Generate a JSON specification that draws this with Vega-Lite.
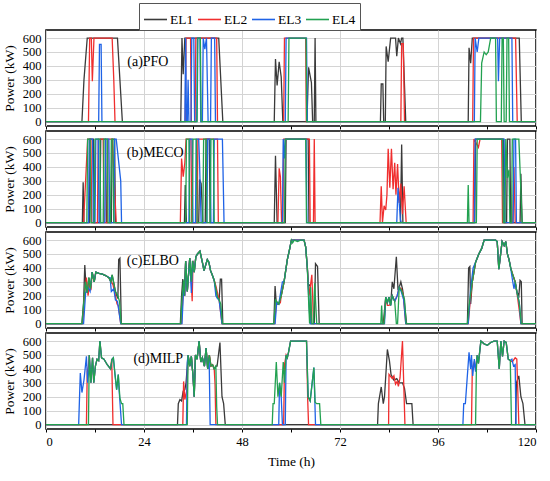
{
"$schema": "https://vega.github.io/schema/vega-lite/v6.json",
"padding": {"left": 1, "top": 2, "right": 5, "bottom": 2},
"background": "white",
"spacing": -1.5,
"data": {"values": [
{"p":"a","s":"EL1","t":0,"v":0},{"p":"a","s":"EL1","t":8.8,"v":0},{"p":"a","s":"EL1","t":9.3,"v":300},{"p":"a","s":"EL1","t":10.1,"v":600},{"p":"a","s":"EL1","t":17.5,"v":600},{"p":"a","s":"EL1","t":18.1,"v":300},{"p":"a","s":"EL1","t":18.7,"v":0},{"p":"a","s":"EL1","t":33.0,"v":0},{"p":"a","s":"EL1","t":33.3,"v":600},{"p":"a","s":"EL1","t":33.6,"v":340},{"p":"a","s":"EL1","t":34.0,"v":600},{"p":"a","s":"EL1","t":42.3,"v":600},{"p":"a","s":"EL1","t":43.3,"v":0},{"p":"a","s":"EL1","t":55.9,"v":0},{"p":"a","s":"EL1","t":56.2,"v":450},{"p":"a","s":"EL1","t":56.6,"v":260},{"p":"a","s":"EL1","t":57.1,"v":430},{"p":"a","s":"EL1","t":57.6,"v":320},{"p":"a","s":"EL1","t":58.0,"v":0},{"p":"a","s":"EL1","t":63.9,"v":0},{"p":"a","s":"EL1","t":64.3,"v":390},{"p":"a","s":"EL1","t":65.0,"v":280},{"p":"a","s":"EL1","t":65.3,"v":0},{"p":"a","s":"EL1","t":65.7,"v":0},{"p":"a","s":"EL1","t":65.9,"v":600},{"p":"a","s":"EL1","t":66.1,"v":0},{"p":"a","s":"EL1","t":81.9,"v":0},{"p":"a","s":"EL1","t":82.1,"v":270},{"p":"a","s":"EL1","t":82.5,"v":270},{"p":"a","s":"EL1","t":82.7,"v":0},{"p":"a","s":"EL1","t":83.1,"v":0},{"p":"a","s":"EL1","t":83.3,"v":540},{"p":"a","s":"EL1","t":83.8,"v":430},{"p":"a","s":"EL1","t":84.4,"v":600},{"p":"a","s":"EL1","t":85.6,"v":600},{"p":"a","s":"EL1","t":85.9,"v":470},{"p":"a","s":"EL1","t":86.3,"v":600},{"p":"a","s":"EL1","t":86.8,"v":560},{"p":"a","s":"EL1","t":87.1,"v":600},{"p":"a","s":"EL1","t":87.4,"v":600},{"p":"a","s":"EL1","t":88.1,"v":0},{"p":"a","s":"EL1","t":103.4,"v":0},{"p":"a","s":"EL1","t":103.6,"v":530},{"p":"a","s":"EL1","t":104.0,"v":420},{"p":"a","s":"EL1","t":104.4,"v":600},{"p":"a","s":"EL1","t":115.9,"v":600},{"p":"a","s":"EL1","t":116.4,"v":0},{"p":"a","s":"EL1","t":120,"v":0},
{"p":"a","s":"EL2","t":0,"v":0},{"p":"a","s":"EL2","t":10.4,"v":0},{"p":"a","s":"EL2","t":10.7,"v":600},{"p":"a","s":"EL2","t":11.1,"v":600},{"p":"a","s":"EL2","t":11.35,"v":290},{"p":"a","s":"EL2","t":11.75,"v":600},{"p":"a","s":"EL2","t":16.2,"v":600},{"p":"a","s":"EL2","t":16.6,"v":300},{"p":"a","s":"EL2","t":16.9,"v":0},{"p":"a","s":"EL2","t":34.1,"v":0},{"p":"a","s":"EL2","t":34.3,"v":600},{"p":"a","s":"EL2","t":35.4,"v":600},{"p":"a","s":"EL2","t":35.6,"v":0},{"p":"a","s":"EL2","t":36.5,"v":0},{"p":"a","s":"EL2","t":36.7,"v":600},{"p":"a","s":"EL2","t":41.8,"v":600},{"p":"a","s":"EL2","t":42.0,"v":0},{"p":"a","s":"EL2","t":58.2,"v":0},{"p":"a","s":"EL2","t":58.4,"v":600},{"p":"a","s":"EL2","t":63.6,"v":600},{"p":"a","s":"EL2","t":63.75,"v":0},{"p":"a","s":"EL2","t":86.9,"v":0},{"p":"a","s":"EL2","t":87.1,"v":560},{"p":"a","s":"EL2","t":87.5,"v":560},{"p":"a","s":"EL2","t":87.8,"v":0},{"p":"a","s":"EL2","t":104.5,"v":0},{"p":"a","s":"EL2","t":104.7,"v":600},{"p":"a","s":"EL2","t":115.0,"v":600},{"p":"a","s":"EL2","t":115.4,"v":0},{"p":"a","s":"EL2","t":120,"v":0},
{"p":"a","s":"EL3","t":0,"v":0},{"p":"a","s":"EL3","t":12.9,"v":0},{"p":"a","s":"EL3","t":13.1,"v":555},{"p":"a","s":"EL3","t":13.5,"v":555},{"p":"a","s":"EL3","t":13.7,"v":0},{"p":"a","s":"EL3","t":34.0,"v":0},{"p":"a","s":"EL3","t":34.2,"v":600},{"p":"a","s":"EL3","t":34.4,"v":0},{"p":"a","s":"EL3","t":34.6,"v":0},{"p":"a","s":"EL3","t":34.8,"v":300},{"p":"a","s":"EL3","t":35.0,"v":0},{"p":"a","s":"EL3","t":35.5,"v":0},{"p":"a","s":"EL3","t":35.7,"v":600},{"p":"a","s":"EL3","t":36.2,"v":600},{"p":"a","s":"EL3","t":36.4,"v":0},{"p":"a","s":"EL3","t":36.9,"v":0},{"p":"a","s":"EL3","t":37.1,"v":600},{"p":"a","s":"EL3","t":37.7,"v":600},{"p":"a","s":"EL3","t":37.9,"v":0},{"p":"a","s":"EL3","t":38.3,"v":0},{"p":"a","s":"EL3","t":38.5,"v":600},{"p":"a","s":"EL3","t":38.9,"v":520},{"p":"a","s":"EL3","t":39.3,"v":600},{"p":"a","s":"EL3","t":39.7,"v":0},{"p":"a","s":"EL3","t":40.3,"v":0},{"p":"a","s":"EL3","t":40.5,"v":600},{"p":"a","s":"EL3","t":41.3,"v":600},{"p":"a","s":"EL3","t":41.5,"v":0},{"p":"a","s":"EL3","t":58.6,"v":0},{"p":"a","s":"EL3","t":58.8,"v":600},{"p":"a","s":"EL3","t":63.8,"v":600},{"p":"a","s":"EL3","t":64.0,"v":0},{"p":"a","s":"EL3","t":104.9,"v":0},{"p":"a","s":"EL3","t":105.1,"v":600},{"p":"a","s":"EL3","t":105.6,"v":500},{"p":"a","s":"EL3","t":106.0,"v":600},{"p":"a","s":"EL3","t":110.6,"v":600},{"p":"a","s":"EL3","t":110.8,"v":290},{"p":"a","s":"EL3","t":111.1,"v":600},{"p":"a","s":"EL3","t":114.1,"v":600},{"p":"a","s":"EL3","t":114.3,"v":0},{"p":"a","s":"EL3","t":120,"v":0},
{"p":"a","s":"EL4","t":0,"v":0},{"p":"a","s":"EL4","t":37.0,"v":0},{"p":"a","s":"EL4","t":37.2,"v":600},{"p":"a","s":"EL4","t":37.8,"v":600},{"p":"a","s":"EL4","t":38.0,"v":0},{"p":"a","s":"EL4","t":59.3,"v":0},{"p":"a","s":"EL4","t":59.5,"v":600},{"p":"a","s":"EL4","t":63.7,"v":600},{"p":"a","s":"EL4","t":63.85,"v":0},{"p":"a","s":"EL4","t":106.4,"v":0},{"p":"a","s":"EL4","t":106.7,"v":420},{"p":"a","s":"EL4","t":107.3,"v":500},{"p":"a","s":"EL4","t":107.8,"v":480},{"p":"a","s":"EL4","t":108.3,"v":500},{"p":"a","s":"EL4","t":108.9,"v":600},{"p":"a","s":"EL4","t":110.1,"v":600},{"p":"a","s":"EL4","t":110.3,"v":0},{"p":"a","s":"EL4","t":111.5,"v":0},{"p":"a","s":"EL4","t":111.7,"v":600},{"p":"a","s":"EL4","t":112.0,"v":600},{"p":"a","s":"EL4","t":112.2,"v":0},{"p":"a","s":"EL4","t":112.7,"v":0},{"p":"a","s":"EL4","t":112.9,"v":600},{"p":"a","s":"EL4","t":113.3,"v":600},{"p":"a","s":"EL4","t":113.5,"v":0},{"p":"a","s":"EL4","t":120,"v":0},

{"p":"b","s":"EL1","t":0,"v":0},{"p":"b","s":"EL1","t":8.9,"v":0},{"p":"b","s":"EL1","t":9.1,"v":290},{"p":"b","s":"EL1","t":9.3,"v":0},{"p":"b","s":"EL1","t":10.6,"v":0},{"p":"b","s":"EL1","t":10.8,"v":600},{"p":"b","s":"EL1","t":11.6,"v":600},{"p":"b","s":"EL1","t":11.8,"v":0},{"p":"b","s":"EL1","t":13.2,"v":0},{"p":"b","s":"EL1","t":13.4,"v":600},{"p":"b","s":"EL1","t":14.6,"v":600},{"p":"b","s":"EL1","t":14.8,"v":0},{"p":"b","s":"EL1","t":16.0,"v":0},{"p":"b","s":"EL1","t":16.2,"v":600},{"p":"b","s":"EL1","t":16.8,"v":600},{"p":"b","s":"EL1","t":17.0,"v":0},{"p":"b","s":"EL1","t":33.9,"v":0},{"p":"b","s":"EL1","t":34.1,"v":270},{"p":"b","s":"EL1","t":34.4,"v":0},{"p":"b","s":"EL1","t":37.4,"v":0},{"p":"b","s":"EL1","t":37.6,"v":310},{"p":"b","s":"EL1","t":38.0,"v":280},{"p":"b","s":"EL1","t":38.4,"v":0},{"p":"b","s":"EL1","t":39.0,"v":0},{"p":"b","s":"EL1","t":39.2,"v":600},{"p":"b","s":"EL1","t":40.0,"v":600},{"p":"b","s":"EL1","t":40.2,"v":0},{"p":"b","s":"EL1","t":55.9,"v":0},{"p":"b","s":"EL1","t":56.2,"v":480},{"p":"b","s":"EL1","t":56.6,"v":0},{"p":"b","s":"EL1","t":58.6,"v":0},{"p":"b","s":"EL1","t":58.8,"v":600},{"p":"b","s":"EL1","t":64.2,"v":600},{"p":"b","s":"EL1","t":64.4,"v":0},{"p":"b","s":"EL1","t":86.8,"v":0},{"p":"b","s":"EL1","t":87.1,"v":560},{"p":"b","s":"EL1","t":87.4,"v":0},{"p":"b","s":"EL1","t":105.0,"v":0},{"p":"b","s":"EL1","t":105.2,"v":600},{"p":"b","s":"EL1","t":112.0,"v":600},{"p":"b","s":"EL1","t":112.2,"v":0},{"p":"b","s":"EL1","t":112.8,"v":0},{"p":"b","s":"EL1","t":113.0,"v":600},{"p":"b","s":"EL1","t":113.6,"v":600},{"p":"b","s":"EL1","t":113.8,"v":0},{"p":"b","s":"EL1","t":116.1,"v":0},{"p":"b","s":"EL1","t":116.3,"v":350},{"p":"b","s":"EL1","t":116.6,"v":0},{"p":"b","s":"EL1","t":120,"v":0},
{"p":"b","s":"EL2","t":0,"v":0},{"p":"b","s":"EL2","t":9.2,"v":0},{"p":"b","s":"EL2","t":10.2,"v":600},{"p":"b","s":"EL2","t":11.0,"v":600},{"p":"b","s":"EL2","t":11.2,"v":0},{"p":"b","s":"EL2","t":12.6,"v":0},{"p":"b","s":"EL2","t":12.8,"v":600},{"p":"b","s":"EL2","t":14.0,"v":600},{"p":"b","s":"EL2","t":14.2,"v":0},{"p":"b","s":"EL2","t":15.0,"v":0},{"p":"b","s":"EL2","t":15.2,"v":600},{"p":"b","s":"EL2","t":16.2,"v":600},{"p":"b","s":"EL2","t":16.6,"v":370},{"p":"b","s":"EL2","t":17.2,"v":0},{"p":"b","s":"EL2","t":32.9,"v":0},{"p":"b","s":"EL2","t":33.2,"v":460},{"p":"b","s":"EL2","t":33.6,"v":330},{"p":"b","s":"EL2","t":34.0,"v":430},{"p":"b","s":"EL2","t":34.3,"v":600},{"p":"b","s":"EL2","t":35.5,"v":600},{"p":"b","s":"EL2","t":35.7,"v":0},{"p":"b","s":"EL2","t":37.0,"v":0},{"p":"b","s":"EL2","t":37.2,"v":600},{"p":"b","s":"EL2","t":42.0,"v":600},{"p":"b","s":"EL2","t":42.2,"v":0},{"p":"b","s":"EL2","t":56.8,"v":0},{"p":"b","s":"EL2","t":57.1,"v":390},{"p":"b","s":"EL2","t":57.4,"v":330},{"p":"b","s":"EL2","t":57.7,"v":0},{"p":"b","s":"EL2","t":58.0,"v":0},{"p":"b","s":"EL2","t":58.2,"v":600},{"p":"b","s":"EL2","t":64.5,"v":600},{"p":"b","s":"EL2","t":64.7,"v":0},{"p":"b","s":"EL2","t":65.5,"v":0},{"p":"b","s":"EL2","t":65.7,"v":600},{"p":"b","s":"EL2","t":65.9,"v":0},{"p":"b","s":"EL2","t":81.8,"v":0},{"p":"b","s":"EL2","t":82.1,"v":260},{"p":"b","s":"EL2","t":82.4,"v":0},{"p":"b","s":"EL2","t":82.8,"v":120},{"p":"b","s":"EL2","t":83.2,"v":90},{"p":"b","s":"EL2","t":83.5,"v":200},{"p":"b","s":"EL2","t":83.8,"v":530},{"p":"b","s":"EL2","t":84.2,"v":250},{"p":"b","s":"EL2","t":84.6,"v":530},{"p":"b","s":"EL2","t":85.0,"v":240},{"p":"b","s":"EL2","t":85.4,"v":430},{"p":"b","s":"EL2","t":85.7,"v":200},{"p":"b","s":"EL2","t":86.1,"v":420},{"p":"b","s":"EL2","t":86.5,"v":140},{"p":"b","s":"EL2","t":86.9,"v":280},{"p":"b","s":"EL2","t":87.3,"v":60},{"p":"b","s":"EL2","t":87.7,"v":260},{"p":"b","s":"EL2","t":88.2,"v":0},{"p":"b","s":"EL2","t":104.6,"v":0},{"p":"b","s":"EL2","t":104.8,"v":600},{"p":"b","s":"EL2","t":105.9,"v":540},{"p":"b","s":"EL2","t":106.3,"v":600},{"p":"b","s":"EL2","t":111.6,"v":600},{"p":"b","s":"EL2","t":111.8,"v":0},{"p":"b","s":"EL2","t":114.3,"v":0},{"p":"b","s":"EL2","t":114.6,"v":400},{"p":"b","s":"EL2","t":114.9,"v":0},{"p":"b","s":"EL2","t":120,"v":0},
{"p":"b","s":"EL3","t":0,"v":0},{"p":"b","s":"EL3","t":10.4,"v":0},{"p":"b","s":"EL3","t":10.6,"v":600},{"p":"b","s":"EL3","t":11.4,"v":600},{"p":"b","s":"EL3","t":11.6,"v":0},{"p":"b","s":"EL3","t":12.0,"v":0},{"p":"b","s":"EL3","t":12.2,"v":600},{"p":"b","s":"EL3","t":12.8,"v":600},{"p":"b","s":"EL3","t":13.0,"v":0},{"p":"b","s":"EL3","t":14.4,"v":0},{"p":"b","s":"EL3","t":14.6,"v":600},{"p":"b","s":"EL3","t":15.4,"v":600},{"p":"b","s":"EL3","t":15.6,"v":0},{"p":"b","s":"EL3","t":16.6,"v":0},{"p":"b","s":"EL3","t":16.8,"v":600},{"p":"b","s":"EL3","t":17.2,"v":600},{"p":"b","s":"EL3","t":18.3,"v":300},{"p":"b","s":"EL3","t":18.5,"v":0},{"p":"b","s":"EL3","t":35.0,"v":0},{"p":"b","s":"EL3","t":35.2,"v":600},{"p":"b","s":"EL3","t":35.8,"v":600},{"p":"b","s":"EL3","t":36.0,"v":0},{"p":"b","s":"EL3","t":36.6,"v":0},{"p":"b","s":"EL3","t":36.8,"v":600},{"p":"b","s":"EL3","t":37.4,"v":600},{"p":"b","s":"EL3","t":37.6,"v":430},{"p":"b","s":"EL3","t":38.0,"v":0},{"p":"b","s":"EL3","t":39.4,"v":0},{"p":"b","s":"EL3","t":39.6,"v":600},{"p":"b","s":"EL3","t":40.2,"v":600},{"p":"b","s":"EL3","t":40.4,"v":0},{"p":"b","s":"EL3","t":41.0,"v":0},{"p":"b","s":"EL3","t":41.2,"v":600},{"p":"b","s":"EL3","t":43.2,"v":600},{"p":"b","s":"EL3","t":43.6,"v":0},{"p":"b","s":"EL3","t":57.9,"v":0},{"p":"b","s":"EL3","t":58.1,"v":600},{"p":"b","s":"EL3","t":58.4,"v":460},{"p":"b","s":"EL3","t":58.6,"v":600},{"p":"b","s":"EL3","t":63.7,"v":600},{"p":"b","s":"EL3","t":63.9,"v":0},{"p":"b","s":"EL3","t":85.9,"v":0},{"p":"b","s":"EL3","t":86.2,"v":250},{"p":"b","s":"EL3","t":86.5,"v":140},{"p":"b","s":"EL3","t":86.8,"v":20},{"p":"b","s":"EL3","t":87.0,"v":0},{"p":"b","s":"EL3","t":104.9,"v":0},{"p":"b","s":"EL3","t":105.1,"v":600},{"p":"b","s":"EL3","t":112.2,"v":600},{"p":"b","s":"EL3","t":112.4,"v":0},{"p":"b","s":"EL3","t":114.4,"v":0},{"p":"b","s":"EL3","t":114.6,"v":600},{"p":"b","s":"EL3","t":115.0,"v":600},{"p":"b","s":"EL3","t":115.2,"v":0},{"p":"b","s":"EL3","t":120,"v":0},
{"p":"b","s":"EL4","t":0,"v":0},{"p":"b","s":"EL4","t":10.0,"v":0},{"p":"b","s":"EL4","t":10.2,"v":600},{"p":"b","s":"EL4","t":10.8,"v":600},{"p":"b","s":"EL4","t":11.0,"v":0},{"p":"b","s":"EL4","t":11.8,"v":0},{"p":"b","s":"EL4","t":12.0,"v":600},{"p":"b","s":"EL4","t":13.2,"v":600},{"p":"b","s":"EL4","t":13.4,"v":0},{"p":"b","s":"EL4","t":14.0,"v":0},{"p":"b","s":"EL4","t":14.2,"v":600},{"p":"b","s":"EL4","t":15.0,"v":600},{"p":"b","s":"EL4","t":15.2,"v":0},{"p":"b","s":"EL4","t":15.8,"v":0},{"p":"b","s":"EL4","t":16.0,"v":600},{"p":"b","s":"EL4","t":16.4,"v":600},{"p":"b","s":"EL4","t":16.6,"v":0},{"p":"b","s":"EL4","t":34.2,"v":0},{"p":"b","s":"EL4","t":34.4,"v":600},{"p":"b","s":"EL4","t":35.0,"v":600},{"p":"b","s":"EL4","t":35.2,"v":0},{"p":"b","s":"EL4","t":35.8,"v":0},{"p":"b","s":"EL4","t":36.0,"v":600},{"p":"b","s":"EL4","t":36.8,"v":600},{"p":"b","s":"EL4","t":37.0,"v":0},{"p":"b","s":"EL4","t":38.4,"v":0},{"p":"b","s":"EL4","t":38.6,"v":600},{"p":"b","s":"EL4","t":39.2,"v":600},{"p":"b","s":"EL4","t":39.4,"v":0},{"p":"b","s":"EL4","t":40.2,"v":0},{"p":"b","s":"EL4","t":40.4,"v":600},{"p":"b","s":"EL4","t":41.0,"v":600},{"p":"b","s":"EL4","t":41.2,"v":0},{"p":"b","s":"EL4","t":58.4,"v":0},{"p":"b","s":"EL4","t":58.6,"v":600},{"p":"b","s":"EL4","t":63.6,"v":600},{"p":"b","s":"EL4","t":63.8,"v":0},{"p":"b","s":"EL4","t":103.2,"v":0},{"p":"b","s":"EL4","t":103.4,"v":270},{"p":"b","s":"EL4","t":103.6,"v":0},{"p":"b","s":"EL4","t":105.4,"v":0},{"p":"b","s":"EL4","t":105.6,"v":600},{"p":"b","s":"EL4","t":111.8,"v":600},{"p":"b","s":"EL4","t":112.0,"v":0},{"p":"b","s":"EL4","t":112.4,"v":0},{"p":"b","s":"EL4","t":112.6,"v":600},{"p":"b","s":"EL4","t":113.0,"v":320},{"p":"b","s":"EL4","t":113.4,"v":380},{"p":"b","s":"EL4","t":113.6,"v":0},{"p":"b","s":"EL4","t":114.0,"v":0},{"p":"b","s":"EL4","t":114.2,"v":600},{"p":"b","s":"EL4","t":115.8,"v":600},{"p":"b","s":"EL4","t":116.6,"v":0},{"p":"b","s":"EL4","t":120,"v":0},

{"p":"c","s":"EL1","t":0,"v":0},{"p":"c","s":"EL1","t":8.8,"v":0},{"p":"c","s":"EL1","t":9.2,"v":150},{"p":"c","s":"EL1","t":9.5,"v":420},{"p":"c","s":"EL1","t":9.8,"v":260},{"p":"c","s":"EL1","t":10.1,"v":220},{"p":"c","s":"EL1","t":10.5,"v":330},{"p":"c","s":"EL1","t":10.9,"v":250},{"p":"c","s":"EL1","t":11.3,"v":370},{"p":"c","s":"EL1","t":11.8,"v":300},{"p":"c","s":"EL1","t":12.2,"v":370},{"p":"c","s":"EL1","t":13.0,"v":360},{"p":"c","s":"EL1","t":13.8,"v":355},{"p":"c","s":"EL1","t":14.6,"v":345},{"p":"c","s":"EL1","t":15.4,"v":330},{"p":"c","s":"EL1","t":15.9,"v":300},{"p":"c","s":"EL1","t":16.2,"v":350},{"p":"c","s":"EL1","t":16.6,"v":290},{"p":"c","s":"EL1","t":17.0,"v":230},{"p":"c","s":"EL1","t":17.6,"v":180},{"p":"c","s":"EL1","t":17.8,"v":460},{"p":"c","s":"EL1","t":18.1,"v":470},{"p":"c","s":"EL1","t":18.45,"v":0},{"p":"c","s":"EL1","t":32.9,"v":0},{"p":"c","s":"EL1","t":33.2,"v":200},{"p":"c","s":"EL1","t":33.5,"v":320},{"p":"c","s":"EL1","t":33.8,"v":200},{"p":"c","s":"EL1","t":34.2,"v":450},{"p":"c","s":"EL1","t":34.6,"v":230},{"p":"c","s":"EL1","t":35.2,"v":470},{"p":"c","s":"EL1","t":35.6,"v":300},{"p":"c","s":"EL1","t":35.9,"v":450},{"p":"c","s":"EL1","t":36.3,"v":370},{"p":"c","s":"EL1","t":36.7,"v":480},{"p":"c","s":"EL1","t":37.1,"v":500},{"p":"c","s":"EL1","t":37.7,"v":520},{"p":"c","s":"EL1","t":38.3,"v":440},{"p":"c","s":"EL1","t":38.7,"v":380},{"p":"c","s":"EL1","t":39.1,"v":420},{"p":"c","s":"EL1","t":39.5,"v":460},{"p":"c","s":"EL1","t":39.9,"v":440},{"p":"c","s":"EL1","t":40.3,"v":380},{"p":"c","s":"EL1","t":40.7,"v":350},{"p":"c","s":"EL1","t":41.2,"v":310},{"p":"c","s":"EL1","t":41.6,"v":250},{"p":"c","s":"EL1","t":42.0,"v":190},{"p":"c","s":"EL1","t":42.4,"v":170},{"p":"c","s":"EL1","t":42.7,"v":320},{"p":"c","s":"EL1","t":43.0,"v":320},{"p":"c","s":"EL1","t":43.3,"v":0},{"p":"c","s":"EL1","t":55.8,"v":0},{"p":"c","s":"EL1","t":56.1,"v":270},{"p":"c","s":"EL1","t":56.4,"v":140},{"p":"c","s":"EL1","t":57.0,"v":140},{"p":"c","s":"EL1","t":57.6,"v":200},{"p":"c","s":"EL1","t":58.3,"v":300},{"p":"c","s":"EL1","t":58.7,"v":380},{"p":"c","s":"EL1","t":59.1,"v":460},{"p":"c","s":"EL1","t":59.7,"v":540},{"p":"c","s":"EL1","t":60.1,"v":600},{"p":"c","s":"EL1","t":63.2,"v":600},{"p":"c","s":"EL1","t":63.6,"v":550},{"p":"c","s":"EL1","t":64.0,"v":400},{"p":"c","s":"EL1","t":64.3,"v":270},{"p":"c","s":"EL1","t":64.7,"v":280},{"p":"c","s":"EL1","t":64.9,"v":0},{"p":"c","s":"EL1","t":65.7,"v":0},{"p":"c","s":"EL1","t":66.0,"v":430},{"p":"c","s":"EL1","t":66.5,"v":410},{"p":"c","s":"EL1","t":66.9,"v":0},{"p":"c","s":"EL1","t":82.6,"v":0},{"p":"c","s":"EL1","t":83.2,"v":190},{"p":"c","s":"EL1","t":83.6,"v":150},{"p":"c","s":"EL1","t":84.0,"v":190},{"p":"c","s":"EL1","t":84.4,"v":130},{"p":"c","s":"EL1","t":84.8,"v":300},{"p":"c","s":"EL1","t":85.2,"v":250},{"p":"c","s":"EL1","t":85.8,"v":480},{"p":"c","s":"EL1","t":86.2,"v":250},{"p":"c","s":"EL1","t":86.5,"v":260},{"p":"c","s":"EL1","t":86.9,"v":300},{"p":"c","s":"EL1","t":87.3,"v":250},{"p":"c","s":"EL1","t":87.7,"v":170},{"p":"c","s":"EL1","t":88.3,"v":0},{"p":"c","s":"EL1","t":103.2,"v":0},{"p":"c","s":"EL1","t":103.5,"v":400},{"p":"c","s":"EL1","t":103.8,"v":410},{"p":"c","s":"EL1","t":104.0,"v":140},{"p":"c","s":"EL1","t":104.4,"v":300},{"p":"c","s":"EL1","t":105.2,"v":440},{"p":"c","s":"EL1","t":106.0,"v":500},{"p":"c","s":"EL1","t":106.7,"v":540},{"p":"c","s":"EL1","t":107.3,"v":600},{"p":"c","s":"EL1","t":110.1,"v":600},{"p":"c","s":"EL1","t":110.5,"v":590},{"p":"c","s":"EL1","t":110.9,"v":390},{"p":"c","s":"EL1","t":111.7,"v":590},{"p":"c","s":"EL1","t":112.2,"v":560},{"p":"c","s":"EL1","t":112.6,"v":590},{"p":"c","s":"EL1","t":113.0,"v":500},{"p":"c","s":"EL1","t":113.4,"v":460},{"p":"c","s":"EL1","t":113.8,"v":400},{"p":"c","s":"EL1","t":114.2,"v":360},{"p":"c","s":"EL1","t":114.9,"v":300},{"p":"c","s":"EL1","t":115.3,"v":230},{"p":"c","s":"EL1","t":115.8,"v":200},{"p":"c","s":"EL1","t":116.1,"v":310},{"p":"c","s":"EL1","t":116.4,"v":300},{"p":"c","s":"EL1","t":116.6,"v":0},{"p":"c","s":"EL1","t":120,"v":0},
{"p":"c","s":"EL2","t":0,"v":0},{"p":"c","s":"EL2","t":9.0,"v":0},{"p":"c","s":"EL2","t":9.4,"v":200},{"p":"c","s":"EL2","t":9.9,"v":330},{"p":"c","s":"EL2","t":10.3,"v":200},{"p":"c","s":"EL2","t":10.7,"v":300},{"p":"c","s":"EL2","t":11.0,"v":240},{"p":"c","s":"EL2","t":11.3,"v":370},{"p":"c","s":"EL2","t":11.8,"v":300},{"p":"c","s":"EL2","t":12.2,"v":370},{"p":"c","s":"EL2","t":13.0,"v":360},{"p":"c","s":"EL2","t":13.8,"v":355},{"p":"c","s":"EL2","t":14.6,"v":345},{"p":"c","s":"EL2","t":15.4,"v":330},{"p":"c","s":"EL2","t":15.8,"v":310},{"p":"c","s":"EL2","t":16.4,"v":280},{"p":"c","s":"EL2","t":17.0,"v":200},{"p":"c","s":"EL2","t":17.4,"v":140},{"p":"c","s":"EL2","t":17.7,"v":130},{"p":"c","s":"EL2","t":18.3,"v":0},{"p":"c","s":"EL2","t":33.2,"v":0},{"p":"c","s":"EL2","t":33.6,"v":250},{"p":"c","s":"EL2","t":34.0,"v":200},{"p":"c","s":"EL2","t":34.2,"v":450},{"p":"c","s":"EL2","t":34.6,"v":230},{"p":"c","s":"EL2","t":35.2,"v":470},{"p":"c","s":"EL2","t":35.6,"v":300},{"p":"c","s":"EL2","t":35.8,"v":160},{"p":"c","s":"EL2","t":36.0,"v":450},{"p":"c","s":"EL2","t":36.3,"v":370},{"p":"c","s":"EL2","t":36.7,"v":480},{"p":"c","s":"EL2","t":37.1,"v":500},{"p":"c","s":"EL2","t":37.7,"v":520},{"p":"c","s":"EL2","t":38.3,"v":440},{"p":"c","s":"EL2","t":38.7,"v":380},{"p":"c","s":"EL2","t":39.1,"v":420},{"p":"c","s":"EL2","t":39.5,"v":460},{"p":"c","s":"EL2","t":39.9,"v":440},{"p":"c","s":"EL2","t":40.3,"v":380},{"p":"c","s":"EL2","t":40.7,"v":350},{"p":"c","s":"EL2","t":41.2,"v":310},{"p":"c","s":"EL2","t":41.6,"v":270},{"p":"c","s":"EL2","t":42.0,"v":220},{"p":"c","s":"EL2","t":42.4,"v":170},{"p":"c","s":"EL2","t":43.1,"v":0},{"p":"c","s":"EL2","t":56.0,"v":0},{"p":"c","s":"EL2","t":56.4,"v":160},{"p":"c","s":"EL2","t":57.0,"v":140},{"p":"c","s":"EL2","t":57.4,"v":150},{"p":"c","s":"EL2","t":57.6,"v":200},{"p":"c","s":"EL2","t":58.3,"v":300},{"p":"c","s":"EL2","t":58.7,"v":380},{"p":"c","s":"EL2","t":59.1,"v":460},{"p":"c","s":"EL2","t":59.7,"v":540},{"p":"c","s":"EL2","t":60.1,"v":600},{"p":"c","s":"EL2","t":63.2,"v":600},{"p":"c","s":"EL2","t":63.6,"v":550},{"p":"c","s":"EL2","t":64.0,"v":400},{"p":"c","s":"EL2","t":64.4,"v":200},{"p":"c","s":"EL2","t":64.8,"v":280},{"p":"c","s":"EL2","t":65.1,"v":350},{"p":"c","s":"EL2","t":65.3,"v":200},{"p":"c","s":"EL2","t":65.5,"v":0},{"p":"c","s":"EL2","t":82.8,"v":0},{"p":"c","s":"EL2","t":83.2,"v":180},{"p":"c","s":"EL2","t":83.6,"v":130},{"p":"c","s":"EL2","t":84.0,"v":130},{"p":"c","s":"EL2","t":84.4,"v":140},{"p":"c","s":"EL2","t":84.8,"v":200},{"p":"c","s":"EL2","t":85.4,"v":160},{"p":"c","s":"EL2","t":86.0,"v":200},{"p":"c","s":"EL2","t":86.5,"v":260},{"p":"c","s":"EL2","t":87.0,"v":250},{"p":"c","s":"EL2","t":87.5,"v":200},{"p":"c","s":"EL2","t":88.1,"v":0},{"p":"c","s":"EL2","t":103.4,"v":0},{"p":"c","s":"EL2","t":103.8,"v":130},{"p":"c","s":"EL2","t":104.4,"v":300},{"p":"c","s":"EL2","t":105.2,"v":440},{"p":"c","s":"EL2","t":106.0,"v":500},{"p":"c","s":"EL2","t":106.7,"v":540},{"p":"c","s":"EL2","t":107.3,"v":600},{"p":"c","s":"EL2","t":110.1,"v":600},{"p":"c","s":"EL2","t":110.5,"v":590},{"p":"c","s":"EL2","t":110.9,"v":390},{"p":"c","s":"EL2","t":111.7,"v":590},{"p":"c","s":"EL2","t":112.2,"v":560},{"p":"c","s":"EL2","t":112.6,"v":590},{"p":"c","s":"EL2","t":113.0,"v":500},{"p":"c","s":"EL2","t":113.4,"v":460},{"p":"c","s":"EL2","t":113.8,"v":400},{"p":"c","s":"EL2","t":114.2,"v":360},{"p":"c","s":"EL2","t":114.9,"v":300},{"p":"c","s":"EL2","t":115.3,"v":230},{"p":"c","s":"EL2","t":115.8,"v":120},{"p":"c","s":"EL2","t":116.3,"v":0},{"p":"c","s":"EL2","t":120,"v":0},
{"p":"c","s":"EL3","t":0,"v":0},{"p":"c","s":"EL3","t":9.2,"v":0},{"p":"c","s":"EL3","t":9.7,"v":220},{"p":"c","s":"EL3","t":10.3,"v":260},{"p":"c","s":"EL3","t":10.8,"v":230},{"p":"c","s":"EL3","t":11.3,"v":370},{"p":"c","s":"EL3","t":11.8,"v":300},{"p":"c","s":"EL3","t":12.2,"v":370},{"p":"c","s":"EL3","t":13.0,"v":360},{"p":"c","s":"EL3","t":13.8,"v":355},{"p":"c","s":"EL3","t":14.6,"v":345},{"p":"c","s":"EL3","t":15.4,"v":330},{"p":"c","s":"EL3","t":15.7,"v":330},{"p":"c","s":"EL3","t":16.0,"v":230},{"p":"c","s":"EL3","t":16.6,"v":250},{"p":"c","s":"EL3","t":17.0,"v":170},{"p":"c","s":"EL3","t":17.5,"v":160},{"p":"c","s":"EL3","t":18.3,"v":0},{"p":"c","s":"EL3","t":33.3,"v":0},{"p":"c","s":"EL3","t":33.7,"v":250},{"p":"c","s":"EL3","t":34.0,"v":200},{"p":"c","s":"EL3","t":34.2,"v":450},{"p":"c","s":"EL3","t":34.6,"v":230},{"p":"c","s":"EL3","t":35.2,"v":470},{"p":"c","s":"EL3","t":35.6,"v":220},{"p":"c","s":"EL3","t":35.9,"v":450},{"p":"c","s":"EL3","t":36.3,"v":370},{"p":"c","s":"EL3","t":36.7,"v":480},{"p":"c","s":"EL3","t":37.1,"v":500},{"p":"c","s":"EL3","t":37.7,"v":520},{"p":"c","s":"EL3","t":38.3,"v":440},{"p":"c","s":"EL3","t":38.7,"v":380},{"p":"c","s":"EL3","t":39.1,"v":420},{"p":"c","s":"EL3","t":39.5,"v":460},{"p":"c","s":"EL3","t":39.9,"v":440},{"p":"c","s":"EL3","t":40.3,"v":380},{"p":"c","s":"EL3","t":40.7,"v":350},{"p":"c","s":"EL3","t":41.2,"v":310},{"p":"c","s":"EL3","t":41.6,"v":200},{"p":"c","s":"EL3","t":42.0,"v":180},{"p":"c","s":"EL3","t":42.4,"v":170},{"p":"c","s":"EL3","t":43.1,"v":0},{"p":"c","s":"EL3","t":56.1,"v":0},{"p":"c","s":"EL3","t":56.5,"v":150},{"p":"c","s":"EL3","t":57.0,"v":140},{"p":"c","s":"EL3","t":57.5,"v":230},{"p":"c","s":"EL3","t":57.9,"v":300},{"p":"c","s":"EL3","t":58.3,"v":300},{"p":"c","s":"EL3","t":58.7,"v":380},{"p":"c","s":"EL3","t":59.1,"v":460},{"p":"c","s":"EL3","t":59.7,"v":540},{"p":"c","s":"EL3","t":60.1,"v":600},{"p":"c","s":"EL3","t":63.2,"v":600},{"p":"c","s":"EL3","t":63.6,"v":550},{"p":"c","s":"EL3","t":64.0,"v":400},{"p":"c","s":"EL3","t":64.4,"v":150},{"p":"c","s":"EL3","t":64.7,"v":0},{"p":"c","s":"EL3","t":82.9,"v":0},{"p":"c","s":"EL3","t":83.2,"v":190},{"p":"c","s":"EL3","t":83.6,"v":150},{"p":"c","s":"EL3","t":84.0,"v":190},{"p":"c","s":"EL3","t":84.4,"v":130},{"p":"c","s":"EL3","t":84.8,"v":200},{"p":"c","s":"EL3","t":85.4,"v":160},{"p":"c","s":"EL3","t":86.0,"v":200},{"p":"c","s":"EL3","t":86.5,"v":260},{"p":"c","s":"EL3","t":87.0,"v":230},{"p":"c","s":"EL3","t":87.6,"v":170},{"p":"c","s":"EL3","t":88.1,"v":0},{"p":"c","s":"EL3","t":103.4,"v":0},{"p":"c","s":"EL3","t":104.0,"v":250},{"p":"c","s":"EL3","t":104.6,"v":400},{"p":"c","s":"EL3","t":105.2,"v":440},{"p":"c","s":"EL3","t":106.0,"v":500},{"p":"c","s":"EL3","t":106.7,"v":540},{"p":"c","s":"EL3","t":107.3,"v":600},{"p":"c","s":"EL3","t":110.1,"v":600},{"p":"c","s":"EL3","t":110.5,"v":590},{"p":"c","s":"EL3","t":110.9,"v":390},{"p":"c","s":"EL3","t":111.7,"v":590},{"p":"c","s":"EL3","t":112.2,"v":560},{"p":"c","s":"EL3","t":112.6,"v":590},{"p":"c","s":"EL3","t":113.0,"v":500},{"p":"c","s":"EL3","t":113.4,"v":460},{"p":"c","s":"EL3","t":113.8,"v":400},{"p":"c","s":"EL3","t":114.2,"v":320},{"p":"c","s":"EL3","t":114.6,"v":250},{"p":"c","s":"EL3","t":114.9,"v":300},{"p":"c","s":"EL3","t":115.3,"v":230},{"p":"c","s":"EL3","t":115.9,"v":150},{"p":"c","s":"EL3","t":116.3,"v":0},{"p":"c","s":"EL3","t":120,"v":0},
{"p":"c","s":"EL4","t":0,"v":0},{"p":"c","s":"EL4","t":8.8,"v":0},{"p":"c","s":"EL4","t":9.3,"v":170},{"p":"c","s":"EL4","t":9.7,"v":300},{"p":"c","s":"EL4","t":10.1,"v":220},{"p":"c","s":"EL4","t":10.5,"v":330},{"p":"c","s":"EL4","t":10.9,"v":250},{"p":"c","s":"EL4","t":11.3,"v":370},{"p":"c","s":"EL4","t":11.8,"v":300},{"p":"c","s":"EL4","t":12.2,"v":370},{"p":"c","s":"EL4","t":13.0,"v":360},{"p":"c","s":"EL4","t":13.8,"v":355},{"p":"c","s":"EL4","t":14.6,"v":345},{"p":"c","s":"EL4","t":15.4,"v":330},{"p":"c","s":"EL4","t":15.9,"v":300},{"p":"c","s":"EL4","t":16.2,"v":350},{"p":"c","s":"EL4","t":16.6,"v":290},{"p":"c","s":"EL4","t":17.0,"v":230},{"p":"c","s":"EL4","t":17.6,"v":200},{"p":"c","s":"EL4","t":18.0,"v":160},{"p":"c","s":"EL4","t":18.4,"v":0},{"p":"c","s":"EL4","t":33.0,"v":0},{"p":"c","s":"EL4","t":33.3,"v":180},{"p":"c","s":"EL4","t":33.7,"v":310},{"p":"c","s":"EL4","t":33.9,"v":200},{"p":"c","s":"EL4","t":34.2,"v":450},{"p":"c","s":"EL4","t":34.6,"v":230},{"p":"c","s":"EL4","t":35.2,"v":470},{"p":"c","s":"EL4","t":35.6,"v":300},{"p":"c","s":"EL4","t":35.9,"v":450},{"p":"c","s":"EL4","t":36.3,"v":370},{"p":"c","s":"EL4","t":36.7,"v":480},{"p":"c","s":"EL4","t":37.1,"v":500},{"p":"c","s":"EL4","t":37.7,"v":520},{"p":"c","s":"EL4","t":38.3,"v":440},{"p":"c","s":"EL4","t":38.7,"v":380},{"p":"c","s":"EL4","t":39.1,"v":420},{"p":"c","s":"EL4","t":39.5,"v":460},{"p":"c","s":"EL4","t":39.9,"v":440},{"p":"c","s":"EL4","t":40.3,"v":380},{"p":"c","s":"EL4","t":40.7,"v":350},{"p":"c","s":"EL4","t":41.2,"v":310},{"p":"c","s":"EL4","t":41.6,"v":250},{"p":"c","s":"EL4","t":42.0,"v":190},{"p":"c","s":"EL4","t":42.4,"v":170},{"p":"c","s":"EL4","t":42.8,"v":140},{"p":"c","s":"EL4","t":43.2,"v":0},{"p":"c","s":"EL4","t":55.8,"v":0},{"p":"c","s":"EL4","t":56.2,"v":170},{"p":"c","s":"EL4","t":57.0,"v":140},{"p":"c","s":"EL4","t":57.6,"v":200},{"p":"c","s":"EL4","t":58.3,"v":300},{"p":"c","s":"EL4","t":58.7,"v":380},{"p":"c","s":"EL4","t":59.1,"v":460},{"p":"c","s":"EL4","t":59.7,"v":540},{"p":"c","s":"EL4","t":60.1,"v":600},{"p":"c","s":"EL4","t":60.4,"v":580},{"p":"c","s":"EL4","t":60.8,"v":600},{"p":"c","s":"EL4","t":61.6,"v":590},{"p":"c","s":"EL4","t":62.3,"v":600},{"p":"c","s":"EL4","t":63.2,"v":600},{"p":"c","s":"EL4","t":63.6,"v":550},{"p":"c","s":"EL4","t":64.0,"v":400},{"p":"c","s":"EL4","t":64.4,"v":100},{"p":"c","s":"EL4","t":64.55,"v":0},{"p":"c","s":"EL4","t":64.8,"v":260},{"p":"c","s":"EL4","t":65.1,"v":0},{"p":"c","s":"EL4","t":65.5,"v":0},{"p":"c","s":"EL4","t":65.8,"v":290},{"p":"c","s":"EL4","t":66.3,"v":0},{"p":"c","s":"EL4","t":82.0,"v":0},{"p":"c","s":"EL4","t":82.2,"v":130},{"p":"c","s":"EL4","t":82.4,"v":0},{"p":"c","s":"EL4","t":82.8,"v":0},{"p":"c","s":"EL4","t":83.2,"v":190},{"p":"c","s":"EL4","t":83.6,"v":150},{"p":"c","s":"EL4","t":84.0,"v":190},{"p":"c","s":"EL4","t":84.4,"v":130},{"p":"c","s":"EL4","t":84.8,"v":200},{"p":"c","s":"EL4","t":85.4,"v":160},{"p":"c","s":"EL4","t":85.8,"v":0},{"p":"c","s":"EL4","t":86.1,"v":0},{"p":"c","s":"EL4","t":86.5,"v":260},{"p":"c","s":"EL4","t":87.0,"v":240},{"p":"c","s":"EL4","t":87.5,"v":200},{"p":"c","s":"EL4","t":87.8,"v":170},{"p":"c","s":"EL4","t":88.2,"v":0},{"p":"c","s":"EL4","t":103.2,"v":0},{"p":"c","s":"EL4","t":103.6,"v":130},{"p":"c","s":"EL4","t":104.4,"v":300},{"p":"c","s":"EL4","t":105.2,"v":440},{"p":"c","s":"EL4","t":106.0,"v":500},{"p":"c","s":"EL4","t":106.7,"v":540},{"p":"c","s":"EL4","t":107.3,"v":600},{"p":"c","s":"EL4","t":110.1,"v":600},{"p":"c","s":"EL4","t":110.5,"v":590},{"p":"c","s":"EL4","t":110.9,"v":390},{"p":"c","s":"EL4","t":111.7,"v":590},{"p":"c","s":"EL4","t":112.2,"v":560},{"p":"c","s":"EL4","t":112.6,"v":590},{"p":"c","s":"EL4","t":113.0,"v":500},{"p":"c","s":"EL4","t":113.4,"v":460},{"p":"c","s":"EL4","t":113.8,"v":400},{"p":"c","s":"EL4","t":114.2,"v":360},{"p":"c","s":"EL4","t":114.9,"v":300},{"p":"c","s":"EL4","t":115.3,"v":230},{"p":"c","s":"EL4","t":115.9,"v":150},{"p":"c","s":"EL4","t":116.4,"v":0},{"p":"c","s":"EL4","t":120,"v":0},

{"p":"d","s":"EL1","t":0,"v":0},{"p":"d","s":"EL1","t":32.2,"v":0},{"p":"d","s":"EL1","t":32.4,"v":150},{"p":"d","s":"EL1","t":32.8,"v":180},{"p":"d","s":"EL1","t":33.2,"v":170},{"p":"d","s":"EL1","t":33.6,"v":240},{"p":"d","s":"EL1","t":34.0,"v":250},{"p":"d","s":"EL1","t":34.3,"v":300},{"p":"d","s":"EL1","t":34.8,"v":500},{"p":"d","s":"EL1","t":35.2,"v":420},{"p":"d","s":"EL1","t":35.6,"v":490},{"p":"d","s":"EL1","t":36.0,"v":350},{"p":"d","s":"EL1","t":36.3,"v":200},{"p":"d","s":"EL1","t":36.6,"v":500},{"p":"d","s":"EL1","t":37.0,"v":470},{"p":"d","s":"EL1","t":37.5,"v":600},{"p":"d","s":"EL1","t":37.9,"v":450},{"p":"d","s":"EL1","t":38.3,"v":480},{"p":"d","s":"EL1","t":38.8,"v":420},{"p":"d","s":"EL1","t":39.2,"v":550},{"p":"d","s":"EL1","t":39.6,"v":400},{"p":"d","s":"EL1","t":40.0,"v":500},{"p":"d","s":"EL1","t":40.4,"v":420},{"p":"d","s":"EL1","t":40.8,"v":430},{"p":"d","s":"EL1","t":41.2,"v":400},{"p":"d","s":"EL1","t":41.6,"v":420},{"p":"d","s":"EL1","t":41.9,"v":420},{"p":"d","s":"EL1","t":42.6,"v":590},{"p":"d","s":"EL1","t":43.1,"v":200},{"p":"d","s":"EL1","t":43.5,"v":150},{"p":"d","s":"EL1","t":43.9,"v":0},{"p":"d","s":"EL1","t":81.2,"v":0},{"p":"d","s":"EL1","t":81.4,"v":150},{"p":"d","s":"EL1","t":82.1,"v":270},{"p":"d","s":"EL1","t":82.6,"v":150},{"p":"d","s":"EL1","t":82.9,"v":200},{"p":"d","s":"EL1","t":83.6,"v":540},{"p":"d","s":"EL1","t":84.1,"v":460},{"p":"d","s":"EL1","t":84.5,"v":360},{"p":"d","s":"EL1","t":85.2,"v":320},{"p":"d","s":"EL1","t":85.9,"v":330},{"p":"d","s":"EL1","t":86.5,"v":300},{"p":"d","s":"EL1","t":87.3,"v":300},{"p":"d","s":"EL1","t":87.8,"v":260},{"p":"d","s":"EL1","t":88.3,"v":150},{"p":"d","s":"EL1","t":89.6,"v":150},{"p":"d","s":"EL1","t":89.9,"v":0},{"p":"d","s":"EL1","t":115.0,"v":0},{"p":"d","s":"EL1","t":115.2,"v":300},{"p":"d","s":"EL1","t":115.8,"v":350},{"p":"d","s":"EL1","t":116.3,"v":200},{"p":"d","s":"EL1","t":116.8,"v":150},{"p":"d","s":"EL1","t":117.3,"v":0},{"p":"d","s":"EL1","t":120,"v":0},
{"p":"d","s":"EL2","t":0,"v":0},{"p":"d","s":"EL2","t":9.9,"v":0},{"p":"d","s":"EL2","t":10.1,"v":380},{"p":"d","s":"EL2","t":10.4,"v":420},{"p":"d","s":"EL2","t":10.6,"v":500},{"p":"d","s":"EL2","t":11.0,"v":300},{"p":"d","s":"EL2","t":11.4,"v":480},{"p":"d","s":"EL2","t":11.7,"v":300},{"p":"d","s":"EL2","t":12.1,"v":420},{"p":"d","s":"EL2","t":12.5,"v":470},{"p":"d","s":"EL2","t":12.9,"v":460},{"p":"d","s":"EL2","t":13.2,"v":600},{"p":"d","s":"EL2","t":13.6,"v":480},{"p":"d","s":"EL2","t":14.2,"v":470},{"p":"d","s":"EL2","t":15.0,"v":430},{"p":"d","s":"EL2","t":15.8,"v":400},{"p":"d","s":"EL2","t":16.1,"v":470},{"p":"d","s":"EL2","t":16.4,"v":0},{"p":"d","s":"EL2","t":33.5,"v":0},{"p":"d","s":"EL2","t":33.7,"v":310},{"p":"d","s":"EL2","t":34.0,"v":180},{"p":"d","s":"EL2","t":34.5,"v":250},{"p":"d","s":"EL2","t":34.8,"v":500},{"p":"d","s":"EL2","t":35.2,"v":420},{"p":"d","s":"EL2","t":35.6,"v":490},{"p":"d","s":"EL2","t":36.0,"v":350},{"p":"d","s":"EL2","t":36.3,"v":200},{"p":"d","s":"EL2","t":36.6,"v":500},{"p":"d","s":"EL2","t":37.0,"v":470},{"p":"d","s":"EL2","t":37.5,"v":600},{"p":"d","s":"EL2","t":37.9,"v":450},{"p":"d","s":"EL2","t":38.3,"v":480},{"p":"d","s":"EL2","t":38.8,"v":420},{"p":"d","s":"EL2","t":39.2,"v":550},{"p":"d","s":"EL2","t":39.6,"v":400},{"p":"d","s":"EL2","t":40.0,"v":500},{"p":"d","s":"EL2","t":40.4,"v":420},{"p":"d","s":"EL2","t":40.8,"v":430},{"p":"d","s":"EL2","t":41.2,"v":400},{"p":"d","s":"EL2","t":41.4,"v":290},{"p":"d","s":"EL2","t":41.6,"v":0},{"p":"d","s":"EL2","t":58.2,"v":0},{"p":"d","s":"EL2","t":58.4,"v":430},{"p":"d","s":"EL2","t":58.8,"v":500},{"p":"d","s":"EL2","t":59.1,"v":480},{"p":"d","s":"EL2","t":59.4,"v":520},{"p":"d","s":"EL2","t":59.9,"v":600},{"p":"d","s":"EL2","t":63.8,"v":600},{"p":"d","s":"EL2","t":64.1,"v":170},{"p":"d","s":"EL2","t":64.3,"v":0},{"p":"d","s":"EL2","t":83.9,"v":0},{"p":"d","s":"EL2","t":84.0,"v":360},{"p":"d","s":"EL2","t":84.8,"v":330},{"p":"d","s":"EL2","t":85.2,"v":350},{"p":"d","s":"EL2","t":85.6,"v":290},{"p":"d","s":"EL2","t":86.0,"v":310},{"p":"d","s":"EL2","t":86.3,"v":275},{"p":"d","s":"EL2","t":86.7,"v":335},{"p":"d","s":"EL2","t":87.3,"v":600},{"p":"d","s":"EL2","t":87.9,"v":0},{"p":"d","s":"EL2","t":104.2,"v":0},{"p":"d","s":"EL2","t":104.4,"v":400},{"p":"d","s":"EL2","t":104.8,"v":440},{"p":"d","s":"EL2","t":105.2,"v":400},{"p":"d","s":"EL2","t":105.6,"v":500},{"p":"d","s":"EL2","t":105.9,"v":440},{"p":"d","s":"EL2","t":106.5,"v":600},{"p":"d","s":"EL2","t":107.3,"v":580},{"p":"d","s":"EL2","t":108.1,"v":570},{"p":"d","s":"EL2","t":108.9,"v":590},{"p":"d","s":"EL2","t":109.7,"v":600},{"p":"d","s":"EL2","t":110.5,"v":600},{"p":"d","s":"EL2","t":111.0,"v":400},{"p":"d","s":"EL2","t":111.4,"v":600},{"p":"d","s":"EL2","t":111.8,"v":490},{"p":"d","s":"EL2","t":112.2,"v":600},{"p":"d","s":"EL2","t":112.7,"v":590},{"p":"d","s":"EL2","t":113.2,"v":470},{"p":"d","s":"EL2","t":113.7,"v":460},{"p":"d","s":"EL2","t":114.2,"v":450},{"p":"d","s":"EL2","t":114.9,"v":480},{"p":"d","s":"EL2","t":115.3,"v":470},{"p":"d","s":"EL2","t":115.8,"v":0},{"p":"d","s":"EL2","t":120,"v":0},
{"p":"d","s":"EL3","t":0,"v":0},{"p":"d","s":"EL3","t":8.0,"v":0},{"p":"d","s":"EL3","t":8.4,"v":370},{"p":"d","s":"EL3","t":8.8,"v":230},{"p":"d","s":"EL3","t":9.3,"v":320},{"p":"d","s":"EL3","t":9.9,"v":490},{"p":"d","s":"EL3","t":10.2,"v":300},{"p":"d","s":"EL3","t":10.5,"v":400},{"p":"d","s":"EL3","t":10.6,"v":500},{"p":"d","s":"EL3","t":11.0,"v":300},{"p":"d","s":"EL3","t":11.4,"v":480},{"p":"d","s":"EL3","t":11.7,"v":300},{"p":"d","s":"EL3","t":12.1,"v":420},{"p":"d","s":"EL3","t":12.5,"v":470},{"p":"d","s":"EL3","t":12.9,"v":460},{"p":"d","s":"EL3","t":13.2,"v":600},{"p":"d","s":"EL3","t":13.6,"v":480},{"p":"d","s":"EL3","t":14.2,"v":470},{"p":"d","s":"EL3","t":15.0,"v":430},{"p":"d","s":"EL3","t":15.8,"v":400},{"p":"d","s":"EL3","t":16.2,"v":470},{"p":"d","s":"EL3","t":16.5,"v":480},{"p":"d","s":"EL3","t":16.9,"v":360},{"p":"d","s":"EL3","t":17.3,"v":250},{"p":"d","s":"EL3","t":17.7,"v":360},{"p":"d","s":"EL3","t":17.9,"v":250},{"p":"d","s":"EL3","t":18.5,"v":0},{"p":"d","s":"EL3","t":34.4,"v":0},{"p":"d","s":"EL3","t":34.6,"v":450},{"p":"d","s":"EL3","t":34.8,"v":500},{"p":"d","s":"EL3","t":35.2,"v":420},{"p":"d","s":"EL3","t":35.6,"v":490},{"p":"d","s":"EL3","t":36.0,"v":350},{"p":"d","s":"EL3","t":36.3,"v":200},{"p":"d","s":"EL3","t":36.6,"v":500},{"p":"d","s":"EL3","t":37.0,"v":470},{"p":"d","s":"EL3","t":37.5,"v":600},{"p":"d","s":"EL3","t":37.9,"v":450},{"p":"d","s":"EL3","t":38.3,"v":480},{"p":"d","s":"EL3","t":38.8,"v":420},{"p":"d","s":"EL3","t":39.2,"v":550},{"p":"d","s":"EL3","t":39.6,"v":400},{"p":"d","s":"EL3","t":39.95,"v":480},{"p":"d","s":"EL3","t":40.2,"v":0},{"p":"d","s":"EL3","t":57.0,"v":0},{"p":"d","s":"EL3","t":57.2,"v":300},{"p":"d","s":"EL3","t":57.6,"v":200},{"p":"d","s":"EL3","t":57.9,"v":0},{"p":"d","s":"EL3","t":58.6,"v":0},{"p":"d","s":"EL3","t":58.8,"v":500},{"p":"d","s":"EL3","t":59.1,"v":480},{"p":"d","s":"EL3","t":59.4,"v":520},{"p":"d","s":"EL3","t":59.9,"v":600},{"p":"d","s":"EL3","t":63.8,"v":600},{"p":"d","s":"EL3","t":64.2,"v":200},{"p":"d","s":"EL3","t":64.7,"v":170},{"p":"d","s":"EL3","t":65.6,"v":410},{"p":"d","s":"EL3","t":65.85,"v":160},{"p":"d","s":"EL3","t":66.0,"v":0},{"p":"d","s":"EL3","t":102.1,"v":0},{"p":"d","s":"EL3","t":102.3,"v":150},{"p":"d","s":"EL3","t":102.7,"v":150},{"p":"d","s":"EL3","t":103.6,"v":520},{"p":"d","s":"EL3","t":104.0,"v":400},{"p":"d","s":"EL3","t":104.2,"v":500},{"p":"d","s":"EL3","t":104.5,"v":350},{"p":"d","s":"EL3","t":104.9,"v":470},{"p":"d","s":"EL3","t":105.2,"v":380},{"p":"d","s":"EL3","t":105.6,"v":500},{"p":"d","s":"EL3","t":105.9,"v":440},{"p":"d","s":"EL3","t":106.5,"v":600},{"p":"d","s":"EL3","t":107.3,"v":580},{"p":"d","s":"EL3","t":108.1,"v":570},{"p":"d","s":"EL3","t":108.9,"v":590},{"p":"d","s":"EL3","t":109.7,"v":600},{"p":"d","s":"EL3","t":110.5,"v":600},{"p":"d","s":"EL3","t":111.0,"v":400},{"p":"d","s":"EL3","t":111.4,"v":600},{"p":"d","s":"EL3","t":111.8,"v":490},{"p":"d","s":"EL3","t":112.2,"v":600},{"p":"d","s":"EL3","t":112.7,"v":590},{"p":"d","s":"EL3","t":113.2,"v":470},{"p":"d","s":"EL3","t":113.7,"v":460},{"p":"d","s":"EL3","t":114.1,"v":470},{"p":"d","s":"EL3","t":114.5,"v":420},{"p":"d","s":"EL3","t":114.9,"v":430},{"p":"d","s":"EL3","t":115.1,"v":0},{"p":"d","s":"EL3","t":120,"v":0},
{"p":"d","s":"EL4","t":0,"v":0},{"p":"d","s":"EL4","t":10.4,"v":0},{"p":"d","s":"EL4","t":10.6,"v":500},{"p":"d","s":"EL4","t":11.0,"v":300},{"p":"d","s":"EL4","t":11.4,"v":480},{"p":"d","s":"EL4","t":11.7,"v":300},{"p":"d","s":"EL4","t":12.1,"v":420},{"p":"d","s":"EL4","t":12.5,"v":470},{"p":"d","s":"EL4","t":12.9,"v":460},{"p":"d","s":"EL4","t":13.2,"v":600},{"p":"d","s":"EL4","t":13.6,"v":480},{"p":"d","s":"EL4","t":14.2,"v":470},{"p":"d","s":"EL4","t":15.0,"v":430},{"p":"d","s":"EL4","t":15.8,"v":400},{"p":"d","s":"EL4","t":16.2,"v":470},{"p":"d","s":"EL4","t":16.5,"v":480},{"p":"d","s":"EL4","t":16.9,"v":360},{"p":"d","s":"EL4","t":17.3,"v":250},{"p":"d","s":"EL4","t":17.7,"v":360},{"p":"d","s":"EL4","t":18.1,"v":190},{"p":"d","s":"EL4","t":18.5,"v":150},{"p":"d","s":"EL4","t":18.8,"v":150},{"p":"d","s":"EL4","t":19.1,"v":0},{"p":"d","s":"EL4","t":34.6,"v":0},{"p":"d","s":"EL4","t":34.8,"v":500},{"p":"d","s":"EL4","t":35.2,"v":420},{"p":"d","s":"EL4","t":35.6,"v":490},{"p":"d","s":"EL4","t":36.0,"v":350},{"p":"d","s":"EL4","t":36.3,"v":200},{"p":"d","s":"EL4","t":36.6,"v":500},{"p":"d","s":"EL4","t":37.0,"v":470},{"p":"d","s":"EL4","t":37.5,"v":600},{"p":"d","s":"EL4","t":37.9,"v":450},{"p":"d","s":"EL4","t":38.3,"v":480},{"p":"d","s":"EL4","t":38.8,"v":420},{"p":"d","s":"EL4","t":39.2,"v":550},{"p":"d","s":"EL4","t":39.6,"v":400},{"p":"d","s":"EL4","t":40.0,"v":500},{"p":"d","s":"EL4","t":40.4,"v":420},{"p":"d","s":"EL4","t":40.8,"v":430},{"p":"d","s":"EL4","t":41.2,"v":400},{"p":"d","s":"EL4","t":41.6,"v":420},{"p":"d","s":"EL4","t":41.8,"v":130},{"p":"d","s":"EL4","t":42.0,"v":0},{"p":"d","s":"EL4","t":55.4,"v":0},{"p":"d","s":"EL4","t":55.6,"v":150},{"p":"d","s":"EL4","t":55.9,"v":150},{"p":"d","s":"EL4","t":56.4,"v":450},{"p":"d","s":"EL4","t":56.8,"v":200},{"p":"d","s":"EL4","t":57.2,"v":300},{"p":"d","s":"EL4","t":57.6,"v":200},{"p":"d","s":"EL4","t":58.1,"v":450},{"p":"d","s":"EL4","t":58.4,"v":300},{"p":"d","s":"EL4","t":58.8,"v":500},{"p":"d","s":"EL4","t":59.1,"v":480},{"p":"d","s":"EL4","t":59.4,"v":520},{"p":"d","s":"EL4","t":59.9,"v":600},{"p":"d","s":"EL4","t":63.8,"v":600},{"p":"d","s":"EL4","t":64.2,"v":200},{"p":"d","s":"EL4","t":64.7,"v":170},{"p":"d","s":"EL4","t":65.6,"v":410},{"p":"d","s":"EL4","t":65.9,"v":160},{"p":"d","s":"EL4","t":66.3,"v":150},{"p":"d","s":"EL4","t":67.0,"v":150},{"p":"d","s":"EL4","t":67.3,"v":0},{"p":"d","s":"EL4","t":105.2,"v":0},{"p":"d","s":"EL4","t":105.4,"v":400},{"p":"d","s":"EL4","t":105.6,"v":500},{"p":"d","s":"EL4","t":105.9,"v":440},{"p":"d","s":"EL4","t":106.5,"v":600},{"p":"d","s":"EL4","t":107.3,"v":580},{"p":"d","s":"EL4","t":108.1,"v":570},{"p":"d","s":"EL4","t":108.9,"v":590},{"p":"d","s":"EL4","t":109.7,"v":600},{"p":"d","s":"EL4","t":110.5,"v":600},{"p":"d","s":"EL4","t":111.0,"v":400},{"p":"d","s":"EL4","t":111.4,"v":600},{"p":"d","s":"EL4","t":111.8,"v":490},{"p":"d","s":"EL4","t":112.2,"v":600},{"p":"d","s":"EL4","t":112.7,"v":590},{"p":"d","s":"EL4","t":113.2,"v":470},{"p":"d","s":"EL4","t":113.7,"v":460},{"p":"d","s":"EL4","t":114.0,"v":0},{"p":"d","s":"EL4","t":120,"v":0}
]},
"vconcat": [
{"width": 490, "height": 96, "layer": [
 {"transform": [{"filter": "datum.p === 'a'"}], "mark": {"type": "line", "strokeWidth": 1.3},
  "encoding": {
   "x": {"field": "t", "type": "quantitative", "scale": {"domain": [0, 120], "nice": false}, "axis": {"values": [0,12,24,36,48,60,72,84,96,108,120], "labels": false, "title": null, "tickSize": 3, "domain": false, "gridColor": {"condition": {"test": "datum.value % 24 === 0", "value": "#d4d4d4"}, "value": "transparent"}}},
   "y": {"field": "v", "type": "quantitative", "scale": {"domain": [-32, 658], "nice": false, "zero": false}, "axis": {"values": [0,100,200,300,400,500,600], "labelOverlap": false, "title": "Power (kW)", "ticks": false, "labelPadding": 5, "domain": false}},
   "color": {"field": "s", "type": "nominal", "scale": {"domain": ["EL1","EL2","EL3","EL4"], "range": ["#3a3a3a","#f02e2e","#1f63e6","#22a150"]}}
  }},
 {"data": {"values": [{"label": "(a)PFO"}]}, "mark": {"type": "text", "align": "left", "baseline": "middle", "font": "Liberation Serif", "fontSize": 14, "color": "#000"},
  "encoding": {"x": {"datum": 19.9, "type": "quantitative", "axis": {"values": [0,12,24,36,48,60,72,84,96,108,120], "labels": false, "title": null, "tickSize": 3, "domain": false, "gridColor": {"condition": {"test": "datum.value % 24 === 0", "value": "#d4d4d4"}, "value": "transparent"}}}, "y": {"datum": 425, "type": "quantitative", "axis": {"values": [0,100,200,300,400,500,600], "labelOverlap": false, "title": "Power (kW)", "ticks": false, "labelPadding": 5, "domain": false}}, "text": {"field": "label"}}}
]},
{"width": 490, "height": 96, "layer": [
 {"transform": [{"filter": "datum.p === 'b'"}], "mark": {"type": "line", "strokeWidth": 1.3},
  "encoding": {
   "x": {"field": "t", "type": "quantitative", "scale": {"domain": [0, 120], "nice": false}, "axis": {"values": [0,12,24,36,48,60,72,84,96,108,120], "labels": false, "title": null, "tickSize": 3, "domain": false, "gridColor": {"condition": {"test": "datum.value % 24 === 0", "value": "#d4d4d4"}, "value": "transparent"}}},
   "y": {"field": "v", "type": "quantitative", "scale": {"domain": [-32, 658], "nice": false, "zero": false}, "axis": {"values": [0,100,200,300,400,500,600], "labelOverlap": false, "title": "Power (kW)", "ticks": false, "labelPadding": 5, "domain": false}},
   "color": {"field": "s", "type": "nominal", "scale": {"domain": ["EL1","EL2","EL3","EL4"], "range": ["#3a3a3a","#f02e2e","#1f63e6","#22a150"]}}
  }},
 {"data": {"values": [{"label": "(b)MECO"}]}, "mark": {"type": "text", "align": "left", "baseline": "middle", "font": "Liberation Serif", "fontSize": 14, "color": "#000"},
  "encoding": {"x": {"datum": 19.8, "type": "quantitative", "axis": {"values": [0,12,24,36,48,60,72,84,96,108,120], "labels": false, "title": null, "tickSize": 3, "domain": false, "gridColor": {"condition": {"test": "datum.value % 24 === 0", "value": "#d4d4d4"}, "value": "transparent"}}}, "y": {"datum": 497, "type": "quantitative", "axis": {"values": [0,100,200,300,400,500,600], "labelOverlap": false, "title": "Power (kW)", "ticks": false, "labelPadding": 5, "domain": false}}, "text": {"field": "label"}}}
]},
{"width": 490, "height": 96, "layer": [
 {"transform": [{"filter": "datum.p === 'c'"}], "mark": {"type": "line", "strokeWidth": 1.3},
  "encoding": {
   "x": {"field": "t", "type": "quantitative", "scale": {"domain": [0, 120], "nice": false}, "axis": {"values": [0,12,24,36,48,60,72,84,96,108,120], "labels": false, "title": null, "tickSize": 3, "domain": false, "gridColor": {"condition": {"test": "datum.value % 24 === 0", "value": "#d4d4d4"}, "value": "transparent"}}},
   "y": {"field": "v", "type": "quantitative", "scale": {"domain": [-32, 658], "nice": false, "zero": false}, "axis": {"values": [0,100,200,300,400,500,600], "labelOverlap": false, "title": "Power (kW)", "ticks": false, "labelPadding": 5, "domain": false}},
   "color": {"field": "s", "type": "nominal", "scale": {"domain": ["EL1","EL2","EL3","EL4"], "range": ["#3a3a3a","#f02e2e","#1f63e6","#22a150"]}}
  }},
 {"data": {"values": [{"label": "(c)ELBO"}]}, "mark": {"type": "text", "align": "left", "baseline": "middle", "font": "Liberation Serif", "fontSize": 14, "color": "#000"},
  "encoding": {"x": {"datum": 19.8, "type": "quantitative", "axis": {"values": [0,12,24,36,48,60,72,84,96,108,120], "labels": false, "title": null, "tickSize": 3, "domain": false, "gridColor": {"condition": {"test": "datum.value % 24 === 0", "value": "#d4d4d4"}, "value": "transparent"}}}, "y": {"datum": 449, "type": "quantitative", "axis": {"values": [0,100,200,300,400,500,600], "labelOverlap": false, "title": "Power (kW)", "ticks": false, "labelPadding": 5, "domain": false}}, "text": {"field": "label"}}}
]},
{"width": 490, "height": 96, "layer": [
 {"transform": [{"filter": "datum.p === 'd'"}], "mark": {"type": "line", "strokeWidth": 1.3},
  "encoding": {
   "x": {"field": "t", "type": "quantitative", "scale": {"domain": [0, 120], "nice": false}, "axis": {"values": [0,12,24,36,48,60,72,84,96,108,120], "labelExpr": "datum.value % 24 === 0 ? datum.label : ''", "title": "Time (h)", "tickSize": 3, "domain": false, "labelPadding": 3, "titlePadding": 7, "gridColor": {"condition": {"test": "datum.value % 24 === 0", "value": "#d4d4d4"}, "value": "transparent"}}},
   "y": {"field": "v", "type": "quantitative", "scale": {"domain": [-32, 658], "nice": false, "zero": false}, "axis": {"values": [0,100,200,300,400,500,600], "labelOverlap": false, "title": "Power (kW)", "ticks": false, "labelPadding": 5, "domain": false}},
   "color": {"field": "s", "type": "nominal", "scale": {"domain": ["EL1","EL2","EL3","EL4"], "range": ["#3a3a3a","#f02e2e","#1f63e6","#22a150"]}}
  }},
 {"data": {"values": [{"label": "(d)MILP"}]}, "mark": {"type": "text", "align": "left", "baseline": "middle", "font": "Liberation Serif", "fontSize": 14, "color": "#000"},
  "encoding": {"x": {"datum": 21.4, "type": "quantitative", "axis": {"values": [0,12,24,36,48,60,72,84,96,108,120], "labelExpr": "datum.value % 24 === 0 ? datum.label : ''", "title": "Time (h)", "tickSize": 3, "domain": false, "labelPadding": 3, "titlePadding": 7, "gridColor": {"condition": {"test": "datum.value % 24 === 0", "value": "#d4d4d4"}, "value": "transparent"}}}, "y": {"datum": 472, "type": "quantitative", "axis": {"values": [0,100,200,300,400,500,600], "labelOverlap": false, "title": "Power (kW)", "ticks": false, "labelPadding": 5, "domain": false}}, "text": {"field": "label"}}}
]}
],
"resolve": {"scale": {"color": "shared"}, "legend": {"color": "shared"}},
"config": {
 "font": "Liberation Serif",
 "view": {"stroke": "#000", "strokeWidth": 1.5},
 "axis": {"labelFont": "Liberation Serif", "titleFont": "Liberation Serif", "labelFontSize": 12.5, "titleFontSize": 13.5, "labelColor": "#000", "titleColor": "#000", "titleFontWeight": "normal", "tickColor": "#000", "gridColor": "#d4d4d4", "titlePadding": 6},
 "legend": {"orient": "none", "legendX": 93, "legendY": -27, "direction": "horizontal", "title": null, "symbolType": "stroke", "symbolSize": 529, "symbolStrokeWidth": 1.6, "labelFont": "Liberation Serif", "labelFontSize": 13.5, "labelColor": "#000", "labelOffset": 2, "columnPadding": 0, "padding": 4, "strokeColor": "#555", "fillColor": "white", "cornerRadius": 0}
}
}
